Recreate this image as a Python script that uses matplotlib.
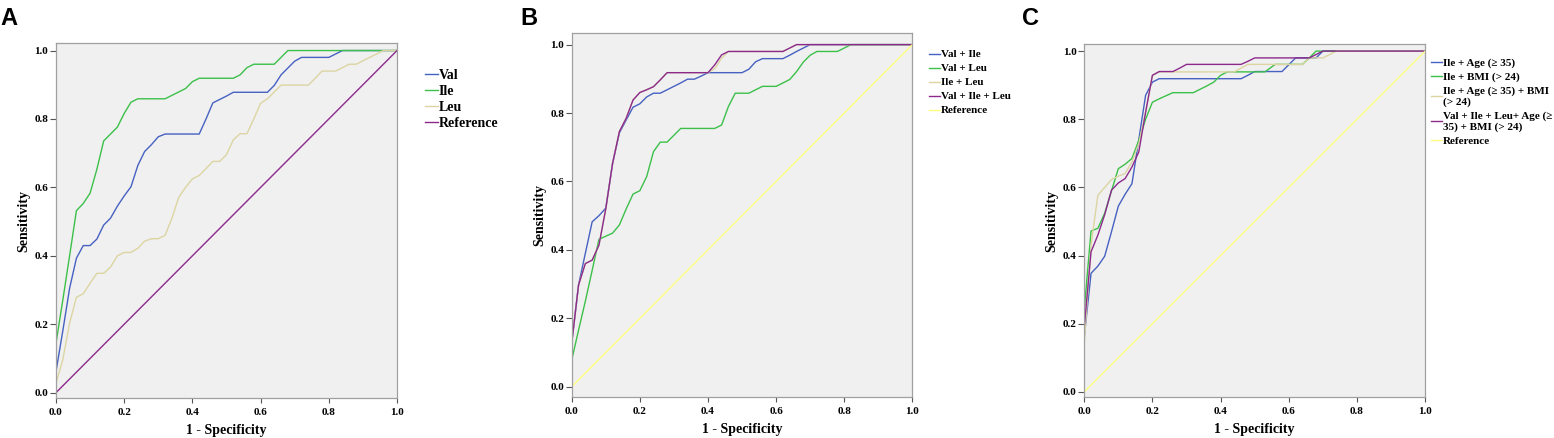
import numpy as np
import matplotlib
matplotlib.use("Agg")
import matplotlib.pyplot as plt

# 字体
plt.rcParams['font.family'] = ['Liberation Serif', 'DejaVu Serif']
plt.rcParams['font.weight'] = 'bold'

# 颜色 (SPSS 风格)
BLUE = '#4661C2'
GREEN = '#3CC04A'
TAN = '#DCD5A2'
PURPLE = '#8C2A8C'
YELLOW = '#FFFF80'

# ---------------- A: 单个氨基酸 ----------------
a_val_x = [0, 0.02, 0.04, 0.06, 0.08, 0.10, 0.12, 0.14, 0.16, 0.18, 0.20, 0.22, 0.24, 0.26, 0.28,
           0.30, 0.32, 0.42, 0.44, 0.46, 0.48, 0.50, 0.52, 0.62, 0.64, 0.66, 0.68, 0.70, 0.72,
           0.80, 0.82, 0.84, 1.0]
a_val_y = [0.061, 0.18, 0.305, 0.393, 0.43, 0.43, 0.449, 0.49, 0.51, 0.545, 0.575, 0.602, 0.664,
           0.705, 0.725, 0.748, 0.756, 0.756, 0.80, 0.847, 0.857, 0.867, 0.878, 0.878, 0.898,
           0.929, 0.949, 0.969, 0.98, 0.98, 0.99, 1.0, 1.0]

a_ile_x = [0, 0.02, 0.04, 0.06, 0.08, 0.10, 0.12, 0.14, 0.16, 0.18, 0.20, 0.22, 0.24, 0.32, 0.34,
           0.36, 0.38, 0.40, 0.42, 0.52, 0.54, 0.56, 0.58, 0.64, 0.66, 0.68, 1.0]
a_ile_y = [0.144, 0.27, 0.40, 0.532, 0.553, 0.583, 0.653, 0.736, 0.756, 0.776, 0.816, 0.849, 0.859,
           0.859, 0.869, 0.879, 0.889, 0.909, 0.919, 0.919, 0.929, 0.95, 0.96, 0.96, 0.98, 1.0, 1.0]

a_leu_x = [0, 0.02, 0.04, 0.06, 0.08, 0.10, 0.12, 0.14, 0.16, 0.18, 0.20, 0.22, 0.24, 0.26, 0.28,
           0.30, 0.32, 0.34, 0.36, 0.38, 0.40, 0.42, 0.44, 0.46, 0.48, 0.50, 0.52, 0.54, 0.56,
           0.58, 0.60, 0.62, 0.64, 0.66, 0.74, 0.76, 0.78, 0.82, 0.84, 0.86, 0.88, 0.90, 0.92,
           0.94, 0.96, 1.0]
a_leu_y = [0.027, 0.096, 0.203, 0.279, 0.289, 0.32, 0.349, 0.349, 0.367, 0.40, 0.41, 0.41, 0.422,
           0.443, 0.45, 0.45, 0.46, 0.51, 0.571, 0.60, 0.625, 0.635, 0.655, 0.676, 0.676, 0.696,
           0.739, 0.757, 0.757, 0.80, 0.846, 0.859, 0.879, 0.899, 0.899, 0.919, 0.94, 0.94,
           0.95, 0.96, 0.96, 0.97, 0.98, 0.99, 1.0, 1.0]

# ---------------- B: 氨基酸组合 ----------------
b_val_ile_x = [0, 0.02, 0.04, 0.06, 0.08, 0.10, 0.12, 0.14, 0.16, 0.18, 0.20, 0.22, 0.24, 0.26,
               0.28, 0.30, 0.32, 0.34, 0.36, 0.38, 0.40, 0.50, 0.52, 0.54, 0.56, 0.62, 0.64,
               0.66, 0.68, 0.70, 1.0]
b_val_ile_y = [0.127, 0.297, 0.39, 0.482, 0.50, 0.522, 0.653, 0.742, 0.78, 0.817, 0.827, 0.847,
               0.858, 0.858, 0.868, 0.878, 0.888, 0.899, 0.899, 0.908, 0.918, 0.918, 0.928, 0.95,
               0.959, 0.959, 0.969, 0.98, 0.99, 1.0, 1.0]

b_val_leu_x = [0, 0.02, 0.04, 0.06, 0.08, 0.10, 0.12, 0.14, 0.16, 0.18, 0.20, 0.22, 0.24, 0.26,
               0.28, 0.30, 0.32, 0.42, 0.44, 0.46, 0.48, 0.52, 0.54, 0.56, 0.60, 0.62, 0.64,
               0.66, 0.68, 0.70, 0.72, 0.78, 0.80, 0.82, 1.0]
b_val_leu_y = [0.078, 0.165, 0.25, 0.34, 0.431, 0.44, 0.449, 0.473, 0.52, 0.563, 0.573, 0.614,
               0.687, 0.715, 0.715, 0.735, 0.755, 0.755, 0.765, 0.819, 0.858, 0.858, 0.868,
               0.878, 0.878, 0.888, 0.898, 0.921, 0.949, 0.969, 0.98, 0.98, 0.99, 1.0, 1.0]

b_ile_leu_x = [0, 0.02, 0.04, 0.06, 0.08, 0.10, 0.12, 0.14, 0.16, 0.18, 0.20, 0.22, 0.24, 0.26,
               0.28, 0.40, 0.42, 0.44, 0.46, 0.62, 0.64, 0.66, 1.0]
b_ile_leu_y = [0.127, 0.297, 0.36, 0.37, 0.414, 0.52, 0.653, 0.746, 0.785, 0.838, 0.86, 0.868,
               0.877, 0.897, 0.918, 0.918, 0.93, 0.96, 0.98, 0.98, 0.99, 1.0, 1.0]

b_all_x = [0, 0.02, 0.04, 0.06, 0.08, 0.10, 0.12, 0.14, 0.16, 0.18, 0.20, 0.22, 0.24, 0.26,
           0.28, 0.40, 0.42, 0.44, 0.46, 0.62, 0.64, 0.66, 1.0]
b_all_y = [0.127, 0.297, 0.36, 0.37, 0.414, 0.52, 0.653, 0.746, 0.785, 0.838, 0.86, 0.868,
           0.877, 0.897, 0.918, 0.918, 0.941, 0.97, 0.98, 0.98, 0.99, 1.0, 1.0]

# ---------------- C: 加入年龄 / BMI ----------------
c_age_x = [0, 0.02, 0.04, 0.06, 0.08, 0.10, 0.12, 0.14, 0.16, 0.18, 0.20, 0.22, 0.46, 0.48,
           0.50, 0.58, 0.60, 0.62, 0.68, 0.70, 1.0]
c_age_y = [0.16, 0.348, 0.369, 0.398, 0.47, 0.545, 0.58, 0.611, 0.74, 0.87, 0.909, 0.919, 0.919,
           0.929, 0.94, 0.94, 0.96, 0.98, 0.98, 1.0, 1.0]

c_bmi_x = [0, 0.02, 0.04, 0.06, 0.08, 0.10, 0.12, 0.14, 0.16, 0.18, 0.20, 0.22, 0.24, 0.26,
           0.32, 0.34, 0.36, 0.38, 0.40, 0.42, 0.53, 0.56, 0.64, 0.66, 0.68, 1.0]
c_bmi_y = [0.24, 0.472, 0.48, 0.524, 0.59, 0.655, 0.668, 0.685, 0.738, 0.80, 0.85, 0.86, 0.869,
           0.878, 0.878, 0.888, 0.898, 0.909, 0.929, 0.939, 0.939, 0.961, 0.961, 0.98, 1.0, 1.0]

c_age_bmi_x = [0, 0.02, 0.04, 0.06, 0.08, 0.10, 0.12, 0.14, 0.16, 0.18, 0.20, 0.22, 0.44, 0.46,
               0.48, 0.64, 0.66, 0.70, 0.72, 0.74, 1.0]
c_age_bmi_y = [0.14, 0.43, 0.577, 0.60, 0.623, 0.633, 0.641, 0.675, 0.728, 0.821, 0.929, 0.939,
               0.939, 0.95, 0.961, 0.961, 0.98, 0.98, 0.99, 1.0, 1.0]

c_all_x = [0, 0.02, 0.04, 0.06, 0.08, 0.10, 0.12, 0.14, 0.16, 0.18, 0.20, 0.22, 0.26, 0.28,
           0.30, 0.46, 0.48, 0.50, 0.66, 0.68, 0.70, 1.0]
c_all_y = [0.19, 0.411, 0.46, 0.52, 0.592, 0.613, 0.626, 0.66, 0.704, 0.82, 0.929, 0.94, 0.94,
           0.95, 0.961, 0.961, 0.97, 0.98, 0.98, 0.99, 1.0, 1.0]

ref_x = [0, 1]
ref_y = [0, 1]

ticks = [0.0, 0.2, 0.4, 0.6, 0.8, 1.0]
tick_labels = ['0.0', '0.2', '0.4', '0.6', '0.8', '1.0']


def setup_axes(ax, ylim):
    ax.set_facecolor('#F0F0F0')
    ax.set_xlim(0, 1)
    ax.set_ylim(*ylim)
    ax.set_xticks(ticks)
    ax.set_xticklabels(tick_labels)
    ax.set_yticks(ticks)
    ax.set_yticklabels(tick_labels)
    ax.tick_params(direction='out', width=0.8, color='#555555', labelsize=8)
    ax.tick_params(axis='y', length=4.5, pad=1)
    ax.tick_params(axis='x', length=3.5, pad=3.5)
    for s in ax.spines.values():
        s.set_color('#A0A0A0')
        s.set_linewidth(0.9)
    ax.set_xlabel('1 - Specificity', fontsize=10, fontweight='bold', labelpad=5)
    ax.set_ylabel('Sensitivity', fontsize=10, fontweight='bold', labelpad=3)


fig = plt.figure(figsize=(15.54, 4.38), dpi=100)
axA = fig.add_axes([0.0360, 0.0913, 0.2195, 0.8105])
axB = fig.add_axes([0.3679, 0.0929, 0.2192, 0.8310])
axC = fig.add_axes([0.6977, 0.0929, 0.2194, 0.8060])

LW = 1.0

# A
setup_axes(axA, (-0.0155, 1.022))
axA.plot(a_val_x, a_val_y, color=BLUE, lw=LW, label='Val')
axA.plot(a_ile_x, a_ile_y, color=GREEN, lw=LW, label='Ile')
axA.plot(a_leu_x, a_leu_y, color=TAN, lw=LW, label='Leu')
axA.plot(ref_x, ref_y, color=PURPLE, lw=LW, label='Reference')
axA.legend(loc='upper left', bbox_to_anchor=(1.082, 0.927), frameon=False, borderpad=0,
           borderaxespad=0, handlelength=0.9, handletextpad=0.1, labelspacing=0.22,
           prop={'size': 10, 'weight': 'bold'})

# B
setup_axes(axB, (-0.031, 1.033))
axB.plot(b_val_ile_x, b_val_ile_y, color=BLUE, lw=LW, label='Val + Ile')
axB.plot(b_val_leu_x, b_val_leu_y, color=GREEN, lw=LW, label='Val + Leu')
axB.plot(b_ile_leu_x, b_ile_leu_y, color=TAN, lw=LW, label='Ile + Leu')
axB.plot(b_all_x, b_all_y, color=PURPLE, lw=LW, label='Val + Ile + Leu')
axB.plot(ref_x, ref_y, color=YELLOW, lw=LW, label='Reference')
axB.legend(loc='upper left', bbox_to_anchor=(1.049, 0.955), frameon=False, borderpad=0,
           borderaxespad=0, handlelength=1.0, handletextpad=0.1, labelspacing=0.38,
           prop={'size': 8, 'weight': 'bold'})

# C
setup_axes(axC, (-0.016, 1.02))
axC.plot(c_age_x, c_age_y, color=BLUE, lw=LW, label='Ile + Age (\u2265 35)')
axC.plot(c_bmi_x, c_bmi_y, color=GREEN, lw=LW, label='Ile + BMI (> 24)')
axC.plot(c_age_bmi_x, c_age_bmi_y, color=TAN, lw=LW, label='Ile + Age (\u2265 35) + BMI\n(> 24)')
axC.plot(c_all_x, c_all_y, color=PURPLE, lw=LW,
         label='Val + Ile + Leu+ Age (\u2265\n35) + BMI (> 24)')
axC.plot(ref_x, ref_y, color=YELLOW, lw=LW, label='Reference')
axC.legend(loc='upper left', bbox_to_anchor=(1.017, 0.962), frameon=False, borderpad=0,
           borderaxespad=0, handlelength=1.0, handletextpad=0.1, labelspacing=0.38,
           prop={'size': 8, 'weight': 'bold'})

# 面板标签
for x, lab in [(0.0, 'A'), (0.3346, 'B'), (0.6575, 'C')]:
    fig.text(x, 0.985, lab, ha='left', va='top', fontsize=17, fontweight='bold',
             family=['Liberation Sans', 'DejaVu Sans'])

fig.savefig('out.png', dpi=100)
